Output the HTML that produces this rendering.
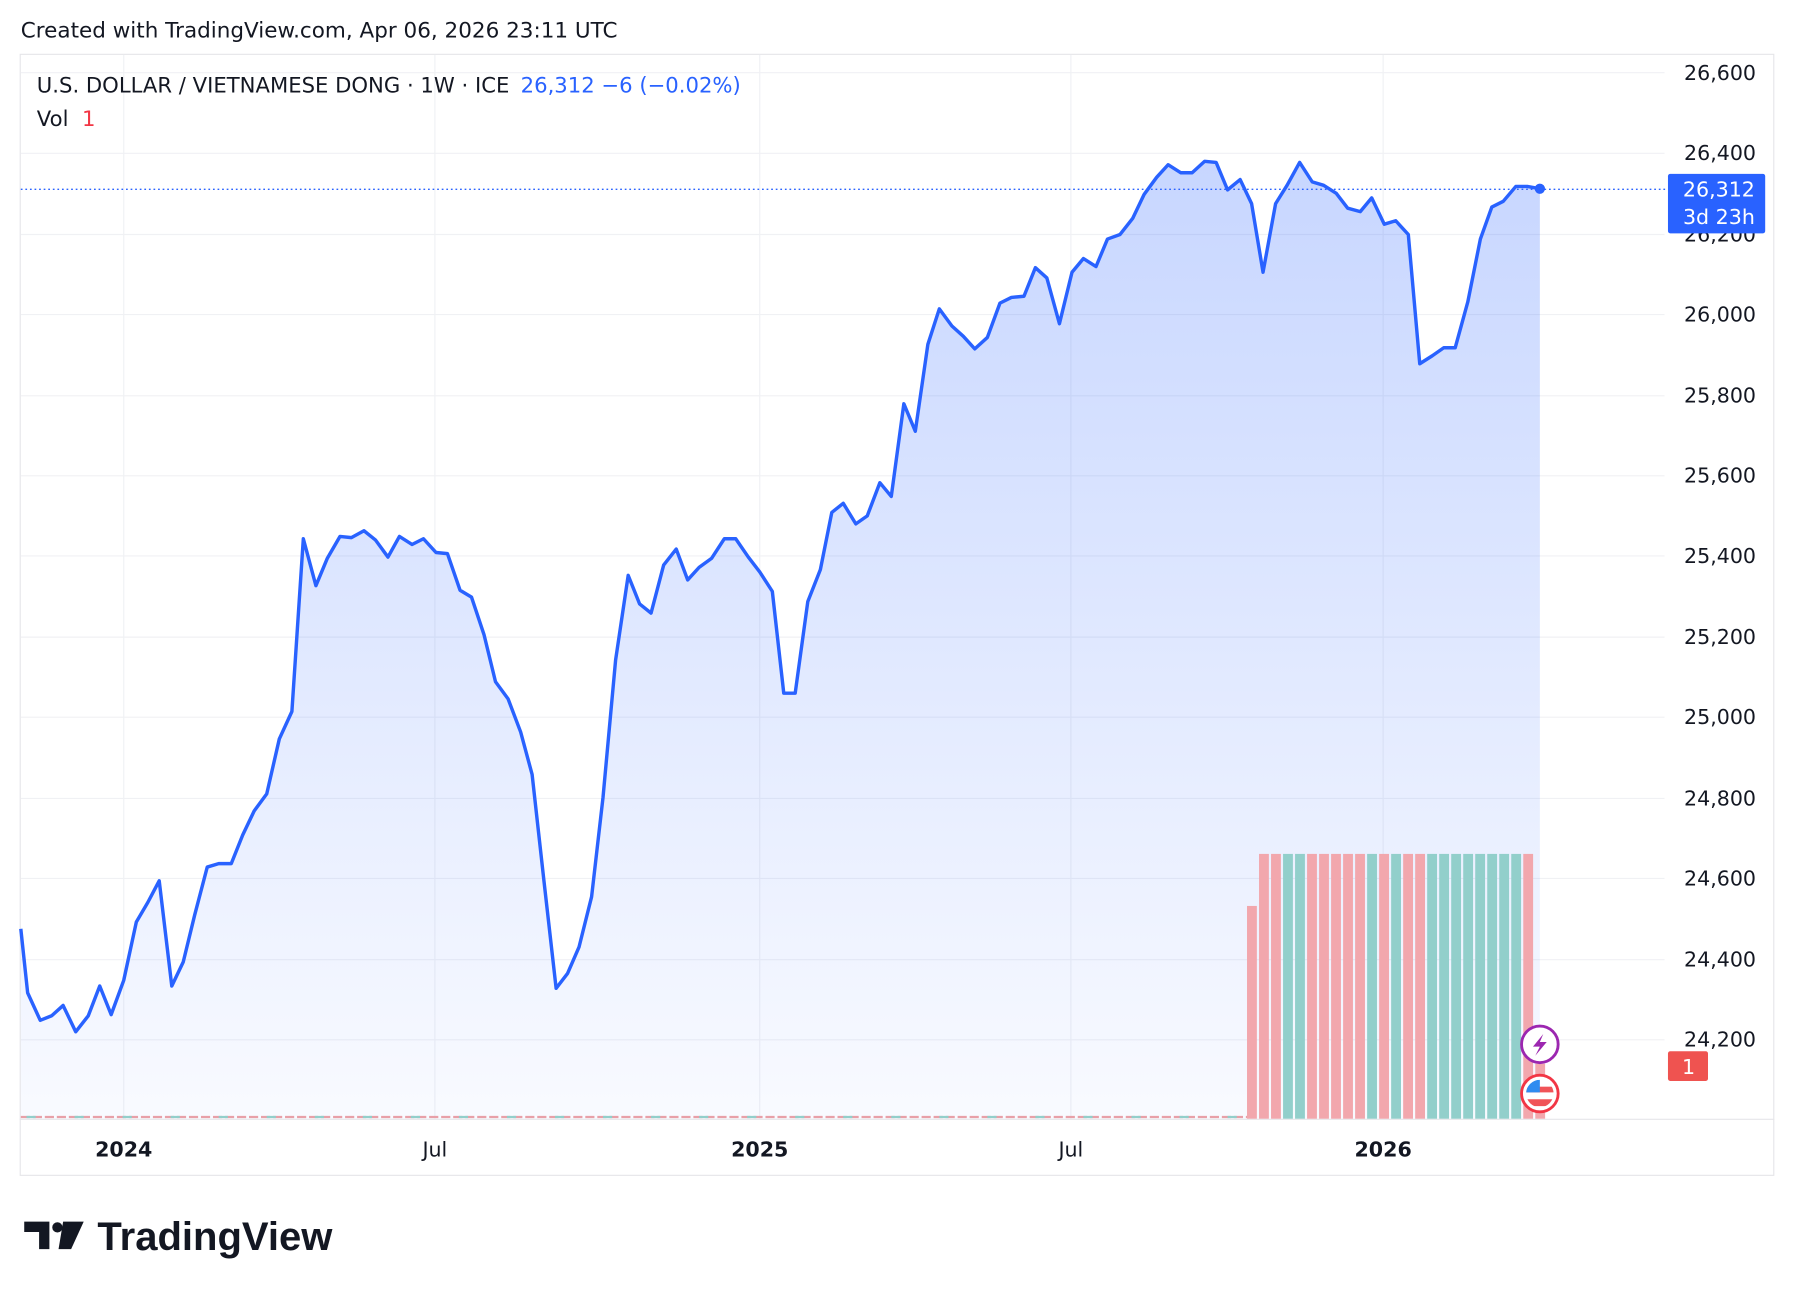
<!DOCTYPE html>
<html><head><meta charset="utf-8"><style>
html,body{margin:0;padding:0;background:#fff;}
svg{display:block;font-family:"DejaVu Sans","Liberation Sans",sans-serif;}
</style></head><body>
<svg width="1794" height="1296" viewBox="0 0 1568 1133" xmlns="http://www.w3.org/2000/svg">
<defs>
<linearGradient id="g" x1="0" y1="0" x2="0" y2="1">
<stop offset="0" stop-color="#2962ff" stop-opacity="0.26"/>
<stop offset="1" stop-color="#2962ff" stop-opacity="0.03"/>
</linearGradient>
</defs>
<text x="18" y="33" font-size="18.8" fill="#131722">Created with TradingView.com, Apr 06, 2026 23:11 UTC</text>
<rect x="17.5" y="47.5" width="1533" height="980" fill="#fff" stroke="#e6e6e9"/>
<line x1="17" y1="978.5" x2="1551" y2="978.5" stroke="#e6e6e9"/>
<g stroke="#f0f1f4" stroke-width="1">
<line x1="18" y1="63.5" x2="1455" y2="63.5"/><line x1="18" y1="134" x2="1455" y2="134"/>
<line x1="18" y1="205" x2="1455" y2="205"/><line x1="18" y1="275" x2="1455" y2="275"/>
<line x1="18" y1="346" x2="1455" y2="346"/><line x1="18" y1="416" x2="1455" y2="416"/>
<line x1="18" y1="486" x2="1455" y2="486"/><line x1="18" y1="557" x2="1455" y2="557"/>
<line x1="18" y1="627" x2="1455" y2="627"/><line x1="18" y1="698" x2="1455" y2="698"/>
<line x1="18" y1="768" x2="1455" y2="768"/><line x1="18" y1="839" x2="1455" y2="839"/>
<line x1="18" y1="909" x2="1455" y2="909"/>
<line x1="108" y1="48" x2="108" y2="978"/><line x1="380" y1="48" x2="380" y2="978"/>
<line x1="664" y1="48" x2="664" y2="978"/><line x1="936" y1="48" x2="936" y2="978"/>
<line x1="1209" y1="48" x2="1209" y2="978"/>
</g>
<polygon fill="url(#g)" points="18,978 18,812 24,868 35,892 45,888 55,879 66,902 77,888 87,862 97,887 108,857 119,806 129,789 139,770 150,862 160,841 170,800 181,758 191,755 202,755 212,730 222,709 233,694 244,646 255,622 265,471 276,512 286,488 297,469 307,470 318,464 328,472 339,487 349,469 360,476 370,471 381,483 391,484 402,516 412,522 423,555 433,596 444,611 455,640 465,677 475,767 486,864 496,851 506,828 517,784 527,697 538,577 549,503 559,528 569,536 580,494 591,480 601,507 611,496 622,488 633,471 643,471 654,487 664,500 675,517 685,606 695,606 706,526 717,498 727,448 737,440 748,458 758,451 769,422 779,434 790,353 800,377 811,301 821,270 832,285 842,294 852,305 863,295 874,265 884,260 895,259 905,234 915,243 926,283 937,238 947,226 958,233 968,209 979,205 990,191 1000,170 1011,155 1021,144 1032,151 1042,151 1053,141 1063,142 1073,166 1084,157 1094,178 1104,238 1115,178 1125,162 1136,142 1147,159 1157,162 1168,169 1178,182 1189,185 1199,173 1210,196 1220,193 1231,205 1241,318 1252,311 1262,304 1272,304 1283,264 1294,209 1304,181 1314,176 1325,163 1335,163 1346,165 1346,978"/>
<line x1="18" y1="976.5" x2="1090" y2="976.5" stroke="#e8a0a8" stroke-width="2" stroke-dasharray="8,2.5"/>
<line x1="23" y1="976.5" x2="1090" y2="976.5" stroke="#92cfcb" stroke-width="2" stroke-dasharray="8,34"/>
<g>
<rect x="1090" y="792" width="8.6" height="186" fill="#f2a7ad"/>
<rect x="1100.5" y="746.5" width="8.6" height="231.5" fill="#f2a7ad"/>
<rect x="1111" y="746.5" width="8.6" height="231.5" fill="#f2a7ad"/>
<rect x="1121.5" y="746.5" width="8.6" height="231.5" fill="#92cfcb"/>
<rect x="1132" y="746.5" width="8.6" height="231.5" fill="#92cfcb"/>
<rect x="1142.5" y="746.5" width="8.6" height="231.5" fill="#f2a7ad"/>
<rect x="1153" y="746.5" width="8.6" height="231.5" fill="#f2a7ad"/>
<rect x="1163.5" y="746.5" width="8.6" height="231.5" fill="#f2a7ad"/>
<rect x="1174" y="746.5" width="8.6" height="231.5" fill="#f2a7ad"/>
<rect x="1184.5" y="746.5" width="8.6" height="231.5" fill="#f2a7ad"/>
<rect x="1195" y="746.5" width="8.6" height="231.5" fill="#92cfcb"/>
<rect x="1205.5" y="746.5" width="8.6" height="231.5" fill="#f2a7ad"/>
<rect x="1216" y="746.5" width="8.6" height="231.5" fill="#92cfcb"/>
<rect x="1226.5" y="746.5" width="8.6" height="231.5" fill="#f2a7ad"/>
<rect x="1237" y="746.5" width="8.6" height="231.5" fill="#f2a7ad"/>
<rect x="1247.5" y="746.5" width="8.6" height="231.5" fill="#92cfcb"/>
<rect x="1258" y="746.5" width="8.6" height="231.5" fill="#92cfcb"/>
<rect x="1268.5" y="746.5" width="8.6" height="231.5" fill="#92cfcb"/>
<rect x="1279" y="746.5" width="8.6" height="231.5" fill="#92cfcb"/>
<rect x="1289.5" y="746.5" width="8.6" height="231.5" fill="#92cfcb"/>
<rect x="1300" y="746.5" width="8.6" height="231.5" fill="#92cfcb"/>
<rect x="1310.5" y="746.5" width="8.6" height="231.5" fill="#92cfcb"/>
<rect x="1321" y="746.5" width="8.6" height="231.5" fill="#92cfcb"/>
<rect x="1331.5" y="746.5" width="8.6" height="231.5" fill="#f2a7ad"/>
<rect x="1342" y="930" width="8.6" height="48" fill="#f2a7ad"/>
</g>
<polyline fill="none" stroke="#2962ff" stroke-width="3" stroke-linejoin="round" points="18,812 24,868 35,892 45,888 55,879 66,902 77,888 87,862 97,887 108,857 119,806 129,789 139,770 150,862 160,841 170,800 181,758 191,755 202,755 212,730 222,709 233,694 244,646 255,622 265,471 276,512 286,488 297,469 307,470 318,464 328,472 339,487 349,469 360,476 370,471 381,483 391,484 402,516 412,522 423,555 433,596 444,611 455,640 465,677 475,767 486,864 496,851 506,828 517,784 527,697 538,577 549,503 559,528 569,536 580,494 591,480 601,507 611,496 622,488 633,471 643,471 654,487 664,500 675,517 685,606 695,606 706,526 717,498 727,448 737,440 748,458 758,451 769,422 779,434 790,353 800,377 811,301 821,270 832,285 842,294 852,305 863,295 874,265 884,260 895,259 905,234 915,243 926,283 937,238 947,226 958,233 968,209 979,205 990,191 1000,170 1011,155 1021,144 1032,151 1042,151 1053,141 1063,142 1073,166 1084,157 1094,178 1104,238 1115,178 1125,162 1136,142 1147,159 1157,162 1168,169 1178,182 1189,185 1199,173 1210,196 1220,193 1231,205 1241,318 1252,311 1262,304 1272,304 1283,264 1294,209 1304,181 1314,176 1325,163 1335,163 1346,165"/>
<line x1="18" y1="165.5" x2="1458" y2="165.5" stroke="#2962ff" stroke-width="1.3" stroke-dasharray="1.5,2.5"/>
<circle cx="1346" cy="165" r="4.5" fill="#2962ff"/>
<circle cx="1346" cy="913" r="16" fill="#fff" stroke="#9c27b0" stroke-width="2.5"/>
<path d="M1349,904 L1340,915 L1346,915 L1342,923 L1352,911 L1346,911 Z" fill="#9c27b0"/>
<circle cx="1346" cy="956" r="16" fill="#fff" stroke="#f23645" stroke-width="2.5"/>
<clipPath id="fc"><circle cx="1346" cy="956" r="12"/></clipPath>
<g clip-path="url(#fc)">
<rect x="1334" y="944" width="24" height="24" fill="#fff"/>
<rect x="1334" y="950" width="24" height="5" fill="#f05458"/>
<rect x="1334" y="961" width="24" height="6" fill="#f05458"/>
<rect x="1334" y="944" width="12" height="11" fill="#2f8cf0"/>
</g>
<g font-size="18" fill="#131722" text-anchor="end">
<text x="1535" y="70">26,600</text><text x="1535" y="140">26,400</text>
<text x="1535" y="211">26,200</text><text x="1535" y="281">26,000</text>
<text x="1535" y="352">25,800</text><text x="1535" y="422">25,600</text>
<text x="1535" y="492">25,400</text><text x="1535" y="563">25,200</text>
<text x="1535" y="633">25,000</text><text x="1535" y="704">24,800</text>
<text x="1535" y="774">24,600</text><text x="1535" y="845">24,400</text>
<text x="1535" y="915">24,200</text>
</g>
<rect x="1458" y="152" width="85" height="52" rx="2" fill="#2962ff"/>
<text x="1534" y="172" font-size="18" fill="#fff" text-anchor="end">26,312</text>
<text x="1534" y="196" font-size="18" fill="#fff" text-anchor="end">3d 23h</text>
<rect x="1458" y="919" width="35" height="26" rx="2" fill="#ef5350"/>
<text x="1476" y="939" font-size="18" fill="#fff" text-anchor="middle">1</text>
<g font-size="18" fill="#131722" text-anchor="middle">
<text x="108" y="1011" font-weight="bold">2024</text>
<text x="380" y="1011">Jul</text>
<text x="664" y="1011" font-weight="bold">2025</text>
<text x="936" y="1011">Jul</text>
<text x="1209" y="1011" font-weight="bold">2026</text>
</g>
<text x="32" y="81" font-size="18.5" fill="#131722">U.S. DOLLAR / VIETNAMESE DONG · 1W · ICE <tspan fill="#2962ff" dx="4">26,312  −6 (−0.02%)</tspan></text>
<text x="32" y="110" font-size="18.5" fill="#131722">Vol <tspan fill="#f23645" dx="6">1</tspan></text>
<g fill="#131722">
<path d="M21,1068 h22 v24 h-9 v-15 h-13 z"/>
<circle cx="50" cy="1073" r="4.5"/>
<path d="M55,1068 h18 l-11,24 h-11 z"/>
</g>
<text x="85" y="1093" font-size="35" font-weight="bold" fill="#131722" font-family="Liberation Sans, sans-serif">TradingView</text>
</svg>
</body></html>
